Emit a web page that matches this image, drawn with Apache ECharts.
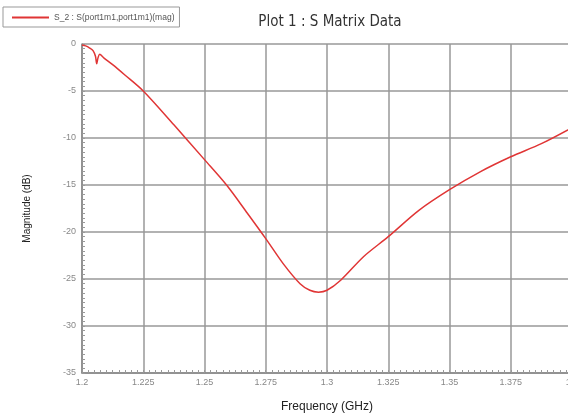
<!DOCTYPE html>
<html>
<head>
<meta charset="utf-8">
<script src="https://cdn.jsdelivr.net/npm/echarts@6/dist/echarts.min.js"></script>
<style>
  html, body { margin: 0; padding: 0; background: #fff; }
  #main { width: 568px; height: 413px; }
</style>
</head>
<body>
<div id="main"></div>
<script>
// frequency (GHz) and S11 magnitude (dB)
var freqs = [1.2000, 1.2015, 1.2030, 1.2045, 1.2055, 1.2060, 1.2065, 1.2072, 1.2090,
  1.2125, 1.2175, 1.2250, 1.2375, 1.2500, 1.2590, 1.2675, 1.2750, 1.2825, 1.2890,
  1.2930, 1.2965, 1.3000, 1.3057, 1.3150, 1.3250, 1.3375, 1.3500, 1.3625, 1.3750,
  1.3875, 1.4000];
var mags = [-0.1, -0.2, -0.4, -0.7, -1.3, -2.1, -1.5, -1.1, -1.5,
  -2.2, -3.3, -5.0, -8.6, -12.3, -15.0, -18.0, -20.7, -23.5, -25.5,
  -26.2, -26.4, -26.2, -25.1, -22.6, -20.5, -17.7, -15.5, -13.6, -12.0,
  -10.6, -8.9];
var seriesName = 'S_2 : S(port1m1,port1m1)(mag)';

var points = freqs.map(function (f, i) { return [f, mags[i]]; });

var myChart = echarts.init(document.getElementById('main'));
myChart.setOption({
  animation: false,
  title: {
    text: 'Plot 1 : S Matrix Data',
    left: 325, top: 10, textAlign: 'center',
    textStyle: { fontSize: 15, fontWeight: 'normal', color: '#333',
      fontFamily: 'DejaVu Sans Condensed, DejaVu Sans, sans-serif' }
  },
  legend: {
    left: 3, top: 7,
    padding: [6, 5, 5, 9],
    borderColor: '#999', borderWidth: 1,
    itemWidth: 37, itemHeight: 6, itemGap: 4,
    textStyle: { fontSize: 8.5, color: '#555' },
    data: [{ name: seriesName, icon: 'path://M0,0L1,0L1,0.06L0,0.06Z' }]
  },
  grid: { left: 82, top: 44, width: 490, height: 329, outerBoundsMode: 'none', containLabel: false },
  xAxis: {
    type: 'value', min: 1.2, max: 1.4, interval: 0.025,
    name: 'Frequency (GHz)', nameLocation: 'middle', nameGap: 28,
    nameTextStyle: { fontSize: 12, color: '#222' },
    axisLine: { onZero: false, lineStyle: { color: '#888', width: 1.5 } },
    axisTick: { show: true, inside: true, length: 3, lineStyle: { color: '#999' } },
    minorTick: { show: true, splitNumber: 10, length: 3, lineStyle: { color: '#999' } },
    axisLabel: { fontSize: 9, color: '#888', margin: 5 },
    splitLine: { show: true, lineStyle: { color: '#999', width: 1.5 } }
  },
  yAxis: {
    type: 'value', min: -35, max: 0, interval: 5,
    name: 'Magnitude (dB)', nameLocation: 'middle', nameGap: 50,
    nameTextStyle: { fontSize: 10, color: '#222' },
    axisLine: { show: true, onZero: false, lineStyle: { color: '#888', width: 1.5 } },
    axisTick: { show: true, inside: true, length: 3, lineStyle: { color: '#999' } },
    minorTick: { show: true, splitNumber: 10, length: 3, lineStyle: { color: '#999' } },
    axisLabel: { fontSize: 9, color: '#888', margin: 6 },
    splitLine: { show: true, lineStyle: { color: '#999', width: 1.5 } }
  },
  series: [{
    name: seriesName,
    type: 'line',
    data: points,
    smooth: 0.3,
    showSymbol: false,
    lineStyle: { color: '#e03535', width: 1.5 },
    itemStyle: { color: '#e03535' }
  }]
});
</script>
</body>
</html>
